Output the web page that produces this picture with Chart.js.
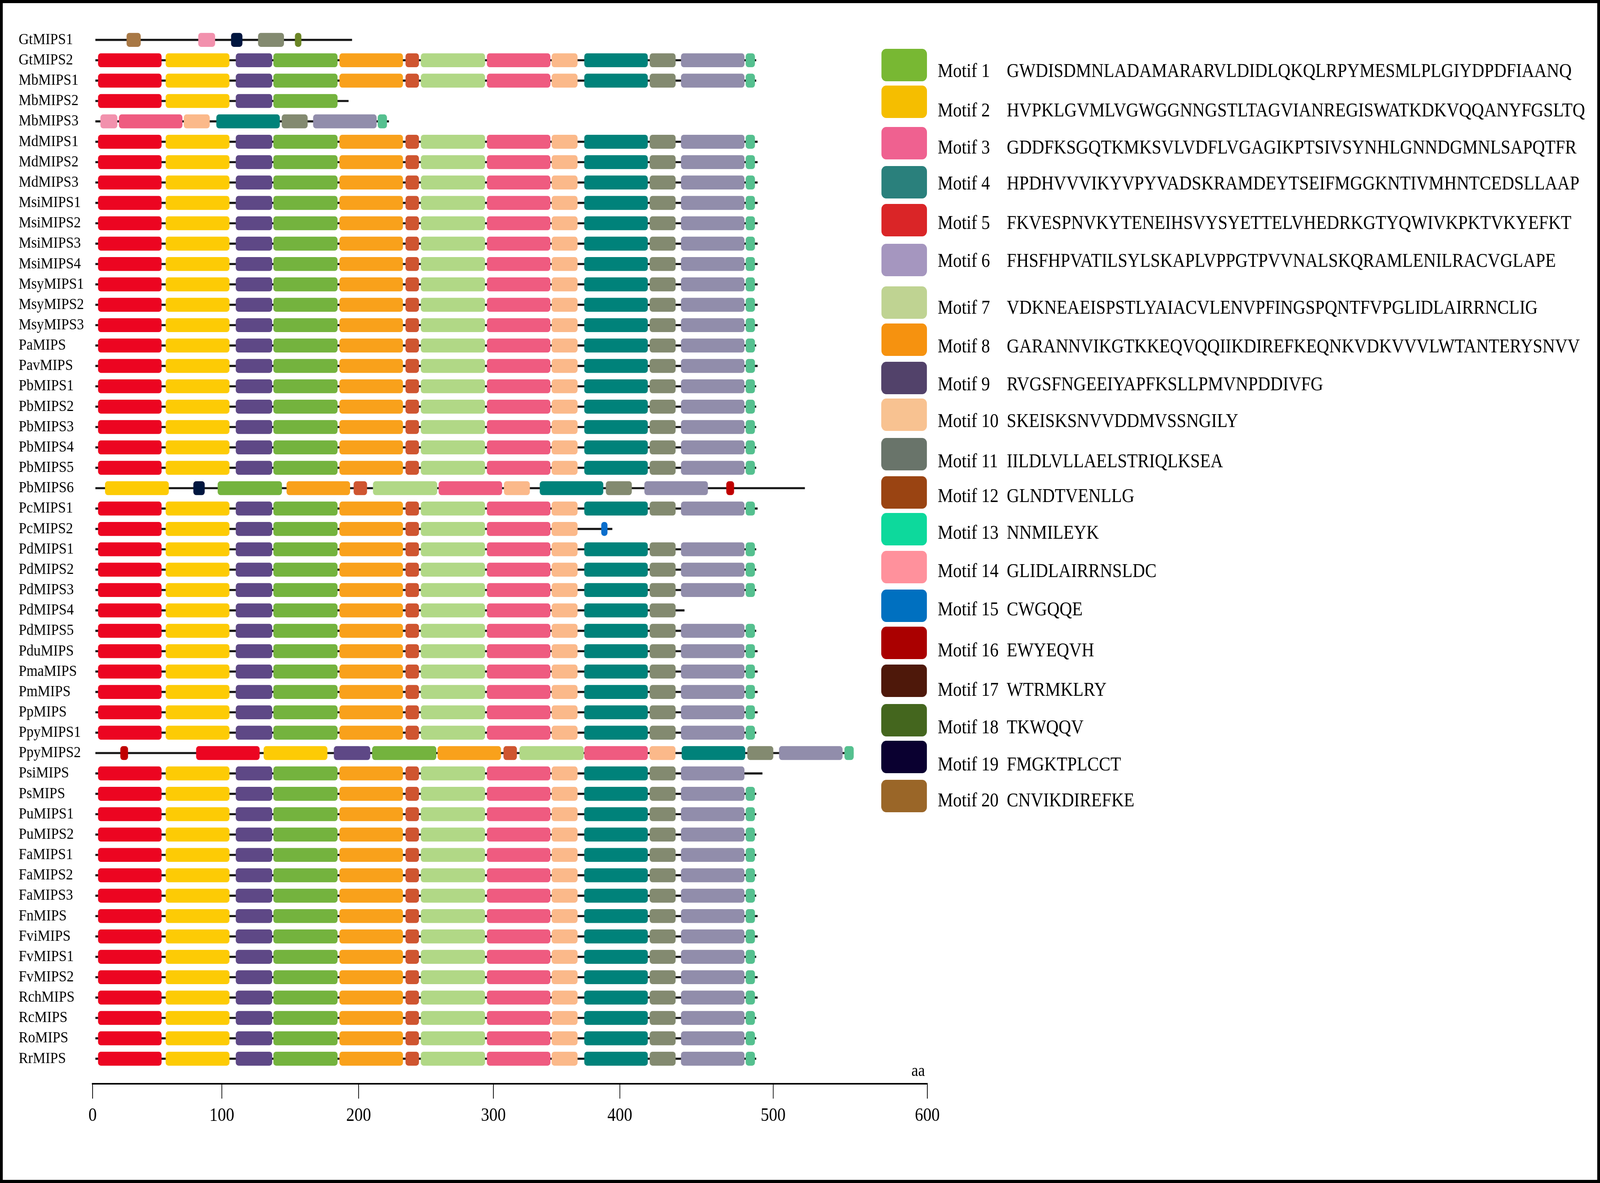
<!DOCTYPE html>
<html>
<head>
<meta charset="utf-8">
<title>MIPS conserved motifs</title>
<script src="https://cdn.jsdelivr.net/npm/chart.js@4.4.1/dist/chart.umd.min.js"></script>
<style>
  html, body { margin: 0; padding: 0; background: #fff; overflow: hidden; }
  #page { position: absolute; left: 0; top: 0; width: 4631px; height: 3028px; background: #fff; overflow: hidden;
          transform-origin: 0 0;
          font-family: 'Liberation Serif', 'Times New Roman', serif; color: #000; }
  #chartBox { position: absolute; left: 0; top: 0; width: 4631px; height: 3028px; }
  #frame { position: absolute; left: 0; top: 0; width: 4631px; height: 3028px;
           border: 8px solid #000; box-sizing: border-box; pointer-events: none; }
  .sw { position: absolute; width: 132px; height: 83px; border-radius: 14px; }
  .lt { position: absolute; font-size: 50px; line-height: 50px; white-space: nowrap; }
  #aa { position: absolute; left: 2638px; top: 2718px; font-size: 44px; line-height: 44px; }
</style>
</head>
<body>
<div id="page">
  <div id="chartBox"><canvas id="motifChart" width="4631" height="3028"></canvas></div>
  <div id="legend"></div>
  <div id="aa">aa</div>
  <div id="frame"></div>
</div>
<script>
const N = null;

const genes = [
  'GtMIPS1', 'GtMIPS2', 'MbMIPS1', 'MbMIPS2', 'MbMIPS3', 'MdMIPS1', 'MdMIPS2', 'MdMIPS3', 'MsiMIPS1',
  'MsiMIPS2', 'MsiMIPS3', 'MsiMIPS4', 'MsyMIPS1', 'MsyMIPS2', 'MsyMIPS3', 'PaMIPS', 'PavMIPS',
  'PbMIPS1', 'PbMIPS2', 'PbMIPS3', 'PbMIPS4', 'PbMIPS5', 'PbMIPS6', 'PcMIPS1', 'PcMIPS2', 'PdMIPS1',
  'PdMIPS2', 'PdMIPS3', 'PdMIPS4', 'PdMIPS5', 'PduMIPS', 'PmaMIPS', 'PmMIPS', 'PpMIPS',
  'PpyMIPS1', 'PpyMIPS2', 'PsiMIPS', 'PsMIPS', 'PuMIPS1', 'PuMIPS2', 'FaMIPS1', 'FaMIPS2', 'FaMIPS3',
  'FnMIPS', 'FviMIPS', 'FvMIPS1', 'FvMIPS2', 'RchMIPS', 'RcMIPS', 'RoMIPS', 'RrMIPS'
];

// drawn protein length (aa), same order as genes
const proteinLength = [
  186.5, 477, 477, 184, 213, 478, 478, 478, 478, 478, 478, 478, 478, 478, 478, 477, 478,
  477, 477, 477, 477, 477, 512, 478, 373.6, 477, 477, 477, 425.5, 477, 478, 478, 478, 478,
  477, 547, 481.5, 477, 477, 477, 477, 477, 477, 478, 478, 477, 478, 478, 477, 477, 477
];
const backboneStart = 2;

// tick marks sit where the figure puts them (not evenly spaced in the original)
const axisTickAt = [0, 92.9, 191.2, 288.1, 379, 489.2, 600];
const axisTickLabels = ['0', '100', '200', '300', '400', '500', '600'];

const motifSeqs = [
  'GWDISDMNLADAMARARVLDIDLQKQLRPYMESMLPLGIYDPDFIAANQ',
  'HVPKLGVMLVGWGGNNGSTLTAGVIANREGISWATKDKVQQANYFGSLTQ',
  'GDDFKSGQTKMKSVLVDFLVGAGIKPTSIVSYNHLGNNDGMNLSAPQTFR',
  'HPDHVVVIKYVPYVADSKRAMDEYTSEIFMGGKNTIVMHNTCEDSLLAAP',
  'FKVESPNVKYTENEIHSVYSYETTELVHEDRKGTYQWIVKPKTVKYEFKT',
  'FHSFHPVATILSYLSKAPLVPPGTPVVNALSKQRAMLENILRACVGLAPE',
  'VDKNEAEISPSTLYAIACVLENVPFINGSPQNTFVPGLIDLAIRRNCLIG',
  'GARANNVIKGTKKEQVQQIIKDIREFKEQNKVDKVVVLWTANTERYSNVV',
  'RVGSFNGEEIYAPFKSLLPMVNPDDIVFG',
  'SKEISKSNVVDDMVSSNGILY',
  'IILDLVLLAELSTRIQLKSEA',
  'GLNDTVENLLG',
  'NNMILEYK',
  'GLIDLAIRRNSLDC',
  'CWGQQE',
  'EWYEQVH',
  'WTRMKLRY',
  'TKWQQV',
  'FMGKTPLCCT',
  'CNVIKDIREFKE'
];

// drawn width of each motif box (aa)
const motifWidth = [46, 45.7, 45.5, 45.5, 45.5, 45.5, 46, 45.5, 26, 18.5, 18.5, 9.5, 6.5, 12, 4.3, 5.4, 8, 4.5, 8, 10];

// motif start positions per gene (aa), same order as genes
const motif1Start = [
  N, 130, 130, 130, N, 130, 130, 130, 130, 130, 130, 130, 130, 130, 130, 130, 130,
  130, 130, 130, 130, 130, 90, 130, 130, 130, 130, 130, 130, 130, 130, 130, 130, 130,
  130, 201, 130, 130, 130, 130, 130, 130, 130, 130, 130, 130, 130, 130, 130, 130, 130
];
const motif2Start = [
  N, 52.6, 52.6, 52.6, N, 52.6, 52.6, 52.6, 52.6, 52.6, 52.6, 52.6, 52.6, 52.6, 52.6, 52.6, 52.6,
  52.6, 52.6, 52.6, 52.6, 52.6, 9, 52.6, 52.6, 52.6, 52.6, 52.6, 52.6, 52.6, 52.6, 52.6, 52.6, 52.6,
  52.6, 123, 52.6, 52.6, 52.6, 52.6, 52.6, 52.6, 52.6, 52.6, 52.6, 52.6, 52.6, 52.6, 52.6, 52.6, 52.6
];
const motif3Start = [
  N, 283.5, 283.5, N, 19, 283.5, 283.5, 283.5, 283.5, 283.5, 283.5, 283.5, 283.5, 283.5, 283.5, 283.5, 283.5,
  283.5, 283.5, 283.5, 283.5, 283.5, 248.8, 283.5, 283.5, 283.5, 283.5, 283.5, 283.5, 283.5, 283.5, 283.5, 283.5, 283.5,
  283.5, 353.5, 283.5, 283.5, 283.5, 283.5, 283.5, 283.5, 283.5, 283.5, 283.5, 283.5, 283.5, 283.5, 283.5, 283.5, 283.5
];
const motif4Start = [
  N, 353.5, 353.5, N, 89, 353.5, 353.5, 353.5, 353.5, 353.5, 353.5, 353.5, 353.5, 353.5, 353.5, 353.5, 353.5,
  353.5, 353.5, 353.5, 353.5, 353.5, 321.5, 353.5, N, 353.5, 353.5, 353.5, 353.5, 353.5, 353.5, 353.5, 353.5, 353.5,
  353.5, 423.5, 353.5, 353.5, 353.5, 353.5, 353.5, 353.5, 353.5, 353.5, 353.5, 353.5, 353.5, 353.5, 353.5, 353.5, 353.5
];
const motif5Start = [
  N, 4, 4, 4, N, 4, 4, 4, 4, 4, 4, 4, 4, 4, 4, 4, 4,
  4, 4, 4, 4, 4, N, 4, 4, 4, 4, 4, 4, 4, 4, 4, 4, 4,
  4, 74.5, 4, 4, 4, 4, 4, 4, 4, 4, 4, 4, 4, 4, 4, 4, 4
];
const motif6Start = [
  N, 423, 423, N, 158.6, 423, 423, 423, 423, 423, 423, 423, 423, 423, 423, 423, 423,
  423, 423, 423, 423, 423, 396.7, 423, N, 423, 423, 423, N, 423, 423, 423, 423, 423,
  423, 493.5, 423, 423, 423, 423, 423, 423, 423, 423, 423, 423, 423, 423, 423, 423, 423
];
const motif7Start = [
  N, 236, 236, N, N, 236, 236, 236, 236, 236, 236, 236, 236, 236, 236, 236, 236,
  236, 236, 236, 236, 236, 201.6, 236, 236, 236, 236, 236, 236, 236, 236, 236, 236, 236,
  236, 306.9, 236, 236, 236, 236, 236, 236, 236, 236, 236, 236, 236, 236, 236, 236, 236
];
const motif8Start = [
  N, 177.5, 177.5, N, N, 177.5, 177.5, 177.5, 177.5, 177.5, 177.5, 177.5, 177.5, 177.5, 177.5, 177.5, 177.5,
  177.5, 177.5, 177.5, 177.5, 177.5, 139.5, 177.5, 177.5, 177.5, 177.5, 177.5, 177.5, 177.5, 177.5, 177.5, 177.5, 177.5,
  177.5, 248, 177.5, 177.5, 177.5, 177.5, 177.5, 177.5, 177.5, 177.5, 177.5, 177.5, 177.5, 177.5, 177.5, 177.5, 177.5
];
const motif9Start = [
  N, 103, 103, 103, N, 103, 103, 103, 103, 103, 103, 103, 103, 103, 103, 103, 103,
  103, 103, 103, 103, 103, N, 103, 103, 103, 103, 103, 103, 103, 103, 103, 103, 103,
  103, 173.5, 103, 103, 103, 103, 103, 103, 103, 103, 103, 103, 103, 103, 103, 103, 103
];
const motif10Start = [
  N, 330, 330, N, 65.6, 330, 330, 330, 330, 330, 330, 330, 330, 330, 330, 330, 330,
  330, 330, 330, 330, 330, 295.7, 330, 330, 330, 330, 330, 330, 330, 330, 330, 330, 330,
  330, 400.4, 330, 330, 330, 330, 330, 330, 330, 330, 330, 330, 330, 330, 330, 330, 330
];
const motif11Start = [
  119, 400.5, 400.5, N, 136, 400.5, 400.5, 400.5, 400.5, 400.5, 400.5, 400.5, 400.5, 400.5, 400.5, 400.5, 400.5,
  400.5, 400.5, 400.5, 400.5, 400.5, 369, 400.5, N, 400.5, 400.5, 400.5, 400.5, 400.5, 400.5, 400.5, 400.5, 400.5,
  400.5, 470.7, 400.5, 400.5, 400.5, 400.5, 400.5, 400.5, 400.5, 400.5, 400.5, 400.5, 400.5, 400.5, 400.5, 400.5, 400.5
];
const motif12Start = [
  N, 225, 225, N, N, 225, 225, 225, 225, 225, 225, 225, 225, 225, 225, 225, 225,
  225, 225, 225, 225, 225, 187.7, 225, 225, 225, 225, 225, 225, 225, 225, 225, 225, 225,
  225, 295.4, 225, 225, 225, 225, 225, 225, 225, 225, 225, 225, 225, 225, 225, 225, 225
];
const motif13Start = [
  N, 469.5, 469.5, N, 205, 469.5, 469.5, 469.5, 469.5, 469.5, 469.5, 469.5, 469.5, 469.5, 469.5, 469.5, 469.5,
  469.5, 469.5, 469.5, 469.5, 469.5, N, 469.5, N, 469.5, 469.5, 469.5, N, 469.5, 469.5, 469.5, 469.5, 469.5,
  469.5, 540.5, N, 469.5, 469.5, 469.5, 469.5, 469.5, 469.5, 469.5, 469.5, 469.5, 469.5, 469.5, 469.5, 469.5, 469.5
];
const motif14Start = [
  76, N, N, N, 5.7, N, N, N, N, N, N, N, N, N, N, N, N,
  N, N, N, N, N, N, N, N, N, N, N, N, N, N, N, N, N,
  N, N, N, N, N, N, N, N, N, N, N, N, N, N, N, N, N
];
const motif15Start = [
  N, N, N, N, N, N, N, N, N, N, N, N, N, N, N, N, N,
  N, N, N, N, N, N, N, 365.7, N, N, N, N, N, N, N, N, N,
  N, N, N, N, N, N, N, N, N, N, N, N, N, N, N, N, N
];
const motif16Start = [
  N, N, N, N, N, N, N, N, N, N, N, N, N, N, N, N, N,
  N, N, N, N, N, 455.6, N, N, N, N, N, N, N, N, N, N, N,
  N, 20, N, N, N, N, N, N, N, N, N, N, N, N, N, N, N
];
const motif17Start = [
  N, N, N, N, N, N, N, N, N, N, N, N, N, N, N, N, N,
  N, N, N, N, N, N, N, N, N, N, N, N, N, N, N, N, N,
  N, N, N, N, N, N, N, N, N, N, N, N, N, N, N, N, N
];
const motif18Start = [
  145.5, N, N, N, N, N, N, N, N, N, N, N, N, N, N, N, N,
  N, N, N, N, N, N, N, N, N, N, N, N, N, N, N, N, N,
  N, N, N, N, N, N, N, N, N, N, N, N, N, N, N, N, N
];
const motif19Start = [
  99.6, N, N, N, N, N, N, N, N, N, N, N, N, N, N, N, N,
  N, N, N, N, N, 72.5, N, N, N, N, N, N, N, N, N, N, N,
  N, N, N, N, N, N, N, N, N, N, N, N, N, N, N, N, N
];
const motif20Start = [
  24.5, N, N, N, N, N, N, N, N, N, N, N, N, N, N, N, N,
  N, N, N, N, N, N, N, N, N, N, N, N, N, N, N, N, N,
  N, N, N, N, N, N, N, N, N, N, N, N, N, N, N, N, N
];

const motifStarts = [
  motif1Start, motif2Start, motif3Start, motif4Start, motif5Start, motif6Start, motif7Start,
  motif8Start, motif9Start, motif10Start, motif11Start, motif12Start, motif13Start, motif14Start,
  motif15Start, motif16Start, motif17Start, motif18Start, motif19Start, motif20Start
];

// styles
const boxColors = [
  '#74B33E', '#FDCB05', '#EF5B80', '#00827A', '#EC0521', '#918DAB', '#B1D886', '#F9A11B', '#5E4886', '#FBB98A',
  '#838A70', '#CF5530', '#55C08F', '#F291AD', '#0A6ECC', '#C00000', '#4E180A', '#6B8526', '#00163F', '#A87845'
];
const legendColors = [
  '#78B833', '#F5BE00', '#EF6190', '#2A807C', '#DA2527', '#A596BF', '#BFD392', '#F6920F', '#52426A', '#F8C291',
  '#69746A', '#9A4412', '#0DD99C', '#FF919C', '#0070C0', '#AA0000', '#4E180A', '#44661E', '#0A0030', '#9A6628'
];
const legendSwatchY = [166, 260, 366, 466, 563, 665, 774, 869, 967, 1061, 1162, 1260, 1354, 1451, 1550, 1645, 1742, 1843, 1937, 2037];
const legendTextY = [180, 281, 376, 468, 569, 666, 786, 885, 982, 1076, 1179, 1268, 1362, 1460, 1558, 1663, 1764, 1860, 1955, 2047];

// stretch the 4631x3028 layout over the whole window
const page = document.getElementById('page');
const sx = window.innerWidth / 4631;
const sy = window.innerHeight / 3028;
page.style.transform = 'scale(' + sx + ',' + sy + ')';

// legend (html)
const legendEl = document.getElementById('legend');
motifSeqs.forEach((seq, m) => {
  const sw = document.createElement('div');
  sw.className = 'sw';
  sw.style.left = '2551px';
  sw.style.top = (legendSwatchY[m] - 41.5) + 'px';
  sw.style.background = legendColors[m];
  legendEl.appendChild(sw);

  const name = document.createElement('div');
  name.className = 'lt';
  name.style.left = '2714px';
  name.style.top = (legendTextY[m] - 25) + 'px';
  name.textContent = 'Motif ' + (m + 1);
  legendEl.appendChild(name);

  const s = document.createElement('div');
  s.className = 'lt';
  s.style.left = '2914px';
  s.style.top = (legendTextY[m] - 25) + 'px';
  s.textContent = seq;
  legendEl.appendChild(s);
});

// chart
Chart.defaults.font.family = "'Liberation Serif', 'Times New Roman', serif";
Chart.defaults.color = '#000';

const datasets = [];
datasets.push({
  label: 'protein',
  data: genes.map((g, i) => ({ x: [backboneStart, proteinLength[i]], y: i })),
  backgroundColor: '#111',
  borderColor: '#a0a0a0',
  borderWidth: { top: 1, bottom: 1, left: 0, right: 0 },
  borderSkipped: false,
  barThickness: 6,
  grouped: false,
  order: 2
});
motifStarts.forEach((starts, m) => {
  const data = [];
  starts.forEach((s, i) => {
    if (s !== null) data.push({ x: [s, s + motifWidth[m]], y: i });
  });
  datasets.push({
    label: 'Motif ' + (m + 1),
    data: data,
    backgroundColor: boxColors[m],
    borderWidth: 0,
    borderRadius: 8,
    borderSkipped: false,
    barThickness: 35,
    grouped: false,
    order: 1
  });
});

new Chart(document.getElementById('motifChart'), {
  type: 'bar',
  data: { datasets: datasets },
  options: {
    indexAxis: 'y',
    responsive: false,
    devicePixelRatio: Math.max(1, (window.devicePixelRatio || 1) * Math.max(sx, sy)),
    animation: false,
    events: [],
    layout: { padding: { left: 54, top: 76, right: 1947, bottom: 0 } },
    plugins: { legend: { display: false }, tooltip: { enabled: false } },
    scales: {
      x: {
        type: 'linear',
        position: 'bottom',
        min: 0,
        max: 600,
        afterBuildTicks: s => { s.ticks = axisTickAt.map(v => ({ value: v })); },
        afterFit: s => { s.height = 254; },
        grid: { drawOnChartArea: false, drawTicks: true, tickLength: 38, lineWidth: 2, tickWidth: 2, color: '#000', tickColor: '#000' },
        border: { display: true, color: '#000', width: 4 },
        ticks: { color: '#000', font: { size: 48 }, padding: 16, maxRotation: 0, autoSkip: false,
                 callback: (v, i) => axisTickLabels[i] }
      },
      y: {
        type: 'linear',
        reverse: true,
        offset: false,
        min: -0.5,
        max: 51.23,
        afterBuildTicks: s => { s.ticks = genes.map((g, i) => ({ value: i })); },
        afterFit: s => { s.width = 214; },
        grid: { display: false },
        border: { display: false },
        ticks: { color: '#000', font: { size: 41 }, crossAlign: 'far', autoSkip: false, padding: 0,
                 callback: v => genes[v] }
      }
    }
  }
});
</script>
</body>
</html>
